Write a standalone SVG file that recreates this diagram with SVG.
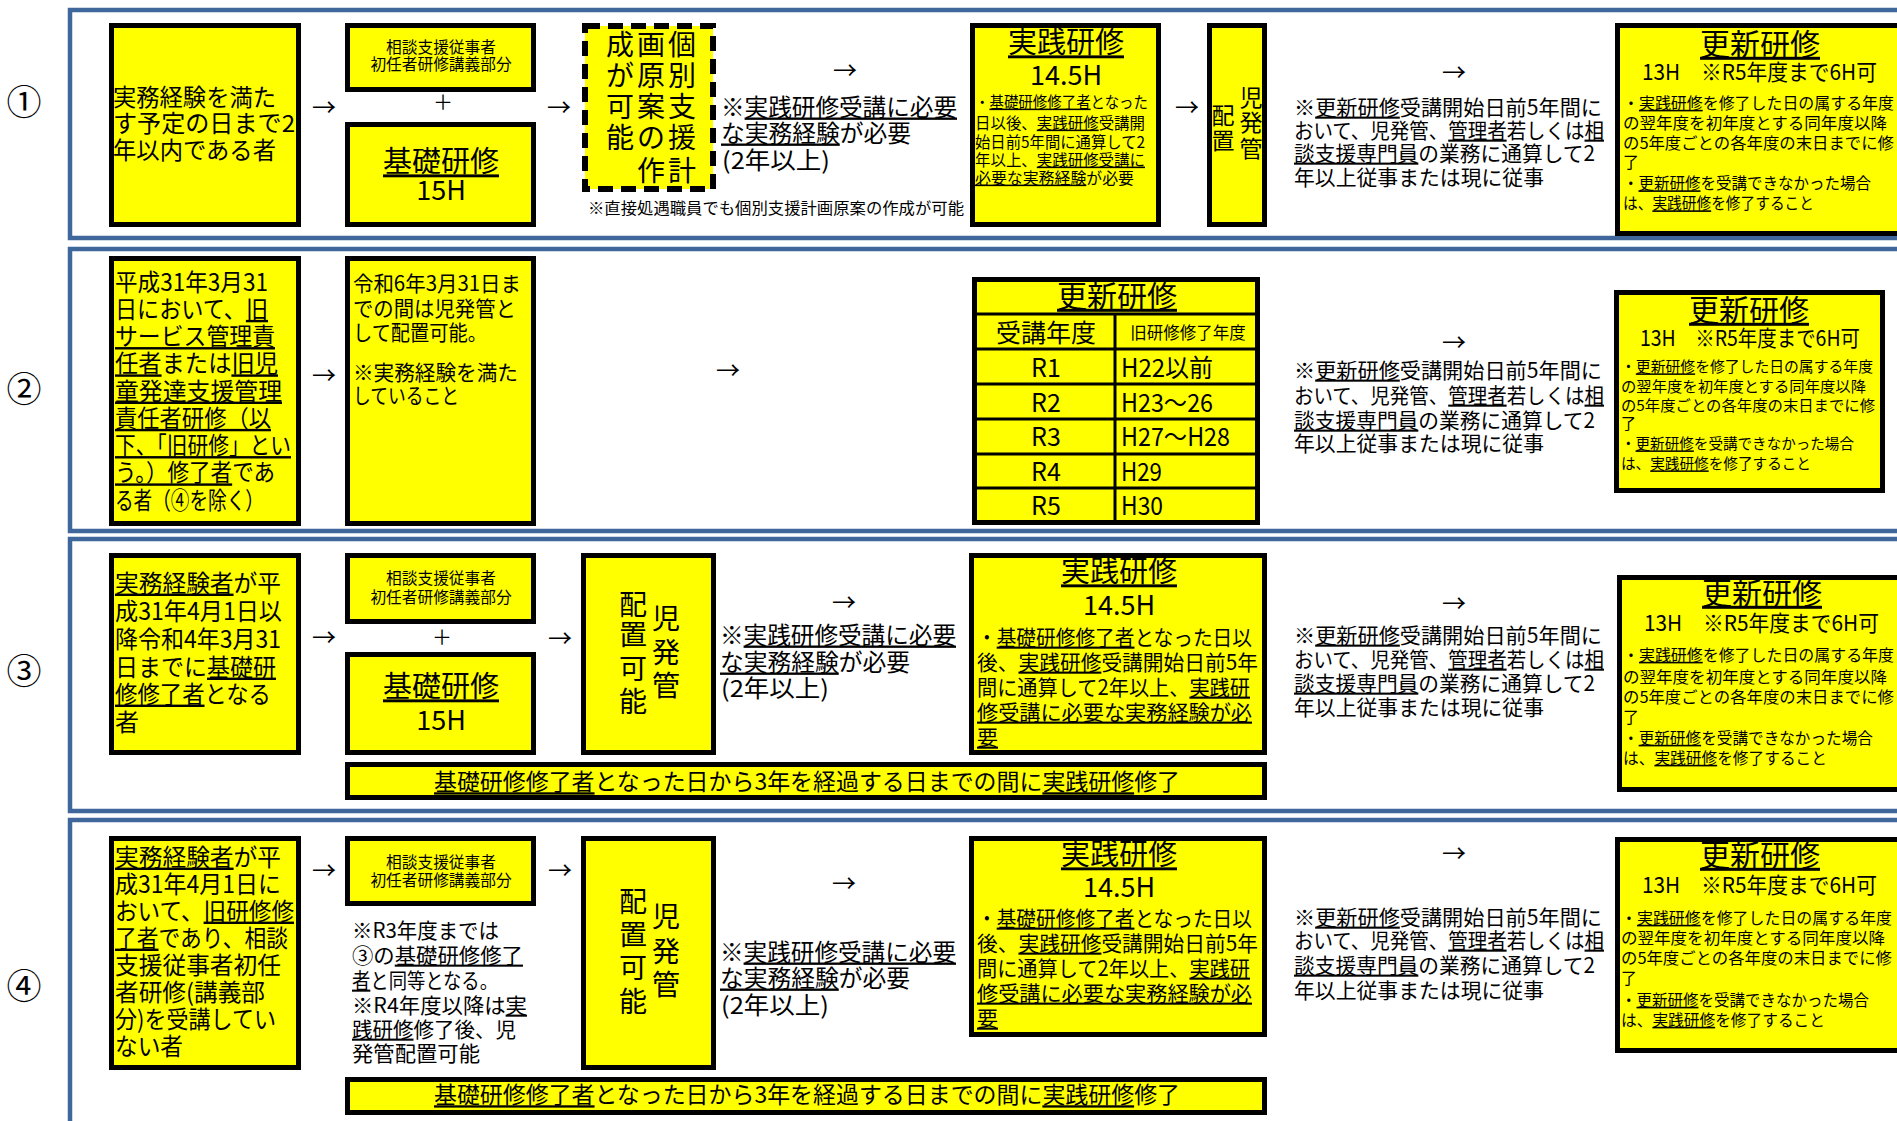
<svg xmlns="http://www.w3.org/2000/svg" width="1897" height="1121" viewBox="0 0 1897 1121">
<style>
text{font-family:"Noto Sans CJK JP","Liberation Sans",sans-serif;fill:#000}
.u{text-decoration:underline}
.box{fill:#ffff00;stroke:#000;stroke-width:5}
.dash{fill:#ffff00;stroke:#000;stroke-width:6;stroke-dasharray:15 8}
.frame{fill:none;stroke:#3f679b;stroke-width:4.5}
.grid{stroke:#000;stroke-width:3}
.c{text-anchor:middle}
.s24{font-size:24px}.s23{font-size:23.5px}.s21{font-size:21px}.s16{font-size:16px}.s155{font-size:15.5px}.s15{font-size:15px}
.t29{font-size:29px}.t27{font-size:27px}.t30{font-size:30px}.v28{font-size:28px}.v23{font-size:23px}
.lab{font-size:35px}
.arr{font-size:24px;text-anchor:middle}
</style>

<g id="frames">
<rect class="frame" x="70" y="10" width="1900" height="228"/>
<rect class="frame" x="70" y="249" width="1900" height="282"/>
<rect class="frame" x="70" y="539" width="1900" height="272"/>
<rect class="frame" x="70" y="820" width="1900" height="400"/>
</g>

<g id="labels">
<text class="lab c" x="24" y="115">①</text>
<text class="lab c" x="24" y="402">②</text>
<text class="lab c" x="24" y="684">③</text>
<text class="lab c" x="24" y="999">④</text>
</g>

<!-- Row 1 -->
<g id="r1-start">
<rect class="box" x="111.5" y="25.5" width="187" height="199"/>
<text class="s23" x="113" y="105.5" textLength="163" lengthAdjust="spacingAndGlyphs">実務経験を満た</text>
<text class="s23" x="113" y="131.5" textLength="182" lengthAdjust="spacingAndGlyphs">す予定の日まで2</text>
<text class="s23" x="113" y="158.5" textLength="163" lengthAdjust="spacingAndGlyphs">年以内である者</text>
</g>
<g id="r1-shonin">
<rect class="box" x="347.5" y="25.5" width="186" height="64"/>
<text class="c" style="font-size:15.7px" x="441" y="52.7">相談支援従事者</text>
<text class="c" style="font-size:15.7px" x="441" y="69.7">初任者研修講義部分</text>
</g>
<g id="r1-kiso">
<rect class="box" x="347.5" y="124.5" width="186" height="100"/>
<text class="t29 c" x="441" y="172.4"><tspan class="u">基礎研修</tspan></text>
<text class="t27 c" x="441" y="199.7">15H</text>
</g>
<g id="r1-keikaku">
<rect class="dash" x="585" y="26" width="128" height="163"/>
<text class="v28 c" x="682 682 682 682 682" y="55 85.5 117 148 181">個別支援計</text>
<text class="v28 c" x="651 651 651 651 651" y="55 85.5 117 148 181">画原案の作</text>
<text class="v28 c" x="620 620 620 620" y="55 85.5 117 148">成が可能</text>
<text class="s155" x="588" y="213.6" textLength="376" lengthAdjust="spacingAndGlyphs">※直接処遇職員でも個別支援計画原案の作成が可能</text>
</g>
<g id="r1-note">
<text class="s23" x="721" y="115.5" textLength="236" lengthAdjust="spacingAndGlyphs">※<tspan class="u">実践研修受講に必要</tspan></text>
<text class="s23" x="721" y="141.5" textLength="190" lengthAdjust="spacingAndGlyphs"><tspan class="u">な実務経験</tspan>が必要</text>
<text class="s23" x="722" y="168.5" textLength="108" lengthAdjust="spacingAndGlyphs">(2年以上)</text>
</g>
<g id="r1-jissen">
<rect class="box" x="972.5" y="25.5" width="186" height="199"/>
<text class="t29 c" x="1066" y="53.4"><tspan class="u">実践研修</tspan></text>
<text class="t27 c" x="1066" y="84.7">14.5H</text>
<text class="s155" x="975" y="107.6" textLength="173" lengthAdjust="spacingAndGlyphs">・<tspan class="u">基礎研修修了者</tspan>となった</text>
<text class="s155" x="975" y="128.6" textLength="170" lengthAdjust="spacingAndGlyphs">日以後、<tspan class="u">実践研修</tspan>受講開</text>
<text class="s155" x="975" y="147.6" textLength="170" lengthAdjust="spacingAndGlyphs">始日前5年間に通算して2</text>
<text class="s155" x="975" y="165.6" textLength="170" lengthAdjust="spacingAndGlyphs">年以上、<tspan class="u">実践研修受講に</tspan></text>
<text class="s155" x="975" y="183.6" textLength="159" lengthAdjust="spacingAndGlyphs"><tspan class="u">必要な実務経験</tspan>が必要</text>
</g>
<g id="r1-haichi">
<rect class="box" x="1209.5" y="25.5" width="55" height="199"/>
<text class="v23 c" x="1251 1251 1251" y="106.3 131.3 157.3">児発管</text>
<text class="v23 c" x="1223 1223" y="124.3 149.3">配置</text>
</g>
<g id="r1-koushin-note">
<text class="s21" x="1294" y="114.6" textLength="308" lengthAdjust="spacingAndGlyphs">※<tspan class="u">更新研修</tspan>受講開始日前5年間に</text>
<text class="s21" x="1294" y="137.6" textLength="310" lengthAdjust="spacingAndGlyphs">おいて、児発管、<tspan class="u">管理者</tspan>若しくは<tspan class="u">相</tspan></text>
<text class="s21" x="1294" y="160.6" textLength="301" lengthAdjust="spacingAndGlyphs"><tspan class="u">談支援専門員</tspan>の業務に通算して2</text>
<text class="s21" x="1294" y="184.6" textLength="250" lengthAdjust="spacingAndGlyphs">年以上従事または現に従事</text>
</g>
<g id="r1-koushin">
<rect class="box" x="1617.5" y="25.5" width="300" height="208"/>
<text class="t30 c" x="1760" y="54.8"><tspan class="u">更新研修</tspan></text>
<text style="font-size:22px" x="1642" y="80" textLength="235" lengthAdjust="spacingAndGlyphs">13H　※R5年度まで6H可</text>
<text class="s16" x="1623" y="108.8" textLength="271" lengthAdjust="spacingAndGlyphs">・<tspan class="u">実践研修</tspan>を修了した日の属する年度</text>
<text class="s16" x="1623" y="129.3" textLength="264" lengthAdjust="spacingAndGlyphs">の翌年度を初年度とする同年度以降</text>
<text class="s16" x="1623" y="149.3" textLength="271" lengthAdjust="spacingAndGlyphs">の5年度ごとの各年度の末日までに修</text>
<text class="s16" x="1623" y="168.3">了</text>
<text class="s16" x="1623" y="189.3" textLength="248" lengthAdjust="spacingAndGlyphs">・<tspan class="u">更新研修</tspan>を受講できなかった場合</text>
<text class="s16" x="1623" y="209.3" textLength="191" lengthAdjust="spacingAndGlyphs">は、<tspan class="u">実践研修</tspan>を修了すること</text>
</g>

<!-- Row 2 -->
<g id="r2-start">
<rect class="box" x="111.5" y="258.5" width="187" height="265"/>
<text class="s24" x="115" y="290.6" textLength="153" lengthAdjust="spacingAndGlyphs">平成31年3月31</text>
<text class="s24" x="115" y="317.9" textLength="153" lengthAdjust="spacingAndGlyphs">日において、<tspan class="u">旧</tspan></text>
<text class="s24" x="115" y="345.1" textLength="160" lengthAdjust="spacingAndGlyphs"><tspan class="u">サービス管理責</tspan></text>
<text class="s24" x="115" y="372.4" textLength="163" lengthAdjust="spacingAndGlyphs"><tspan class="u">任者</tspan>または<tspan class="u">旧児</tspan></text>
<text class="s24" x="115" y="399.6" textLength="167" lengthAdjust="spacingAndGlyphs"><tspan class="u">童発達支援管理</tspan></text>
<text class="s24" x="115" y="426.9" textLength="156" lengthAdjust="spacingAndGlyphs"><tspan class="u">責任者研修（以</tspan></text>
<text class="s24" x="115" y="454.1" textLength="176" lengthAdjust="spacingAndGlyphs"><tspan class="u">下、「旧研修」とい</tspan></text>
<text class="s24" x="115" y="481.4" textLength="160" lengthAdjust="spacingAndGlyphs"><tspan class="u">う。）修了者</tspan>であ</text>
<text class="s24" x="115" y="508.6" textLength="149" lengthAdjust="spacingAndGlyphs">る者（④を除く）</text>
</g>
<g id="r2-haichi">
<rect class="box" x="347.5" y="258.5" width="186" height="265"/>
<text class="s21" x="353" y="290.6" textLength="168" lengthAdjust="spacingAndGlyphs">令和6年3月31日ま</text>
<text class="s21" x="353" y="315.6" textLength="163" lengthAdjust="spacingAndGlyphs">での間は児発管と</text>
<text class="s21" x="353" y="339.6" textLength="134" lengthAdjust="spacingAndGlyphs">して配置可能。</text>
<text class="s21" x="353" y="379.6" textLength="165" lengthAdjust="spacingAndGlyphs">※実務経験を満た</text>
<text class="s21" x="353" y="402.6" textLength="106" lengthAdjust="spacingAndGlyphs">していること</text>
</g>
<g id="r2-table">
<rect class="box" x="974.5" y="279.5" width="283" height="243"/>
<line class="grid" x1="977" y1="314" x2="1255" y2="314"/>
<line class="grid" x1="977" y1="349" x2="1255" y2="349"/>
<line class="grid" x1="977" y1="384" x2="1255" y2="384"/>
<line class="grid" x1="977" y1="419" x2="1255" y2="419"/>
<line class="grid" x1="977" y1="454" x2="1255" y2="454"/>
<line class="grid" x1="977" y1="488" x2="1255" y2="488"/>
<line class="grid" x1="1115" y1="314" x2="1115" y2="520"/>
<text class="t30 c" x="1117" y="306.8"><tspan class="u">更新研修</tspan></text>
<text class="c" style="font-size:25px" x="1046" y="342">受講年度</text>
<text class="c" style="font-size:16.5px" x="1188" y="338.9">旧研修修了年度</text>
<text class="c" style="font-size:25px" x="1046" y="376.5">R1</text>
<text class="c" style="font-size:25px" x="1046" y="411.5">R2</text>
<text class="c" style="font-size:25px" x="1046" y="446">R3</text>
<text class="c" style="font-size:25px" x="1046" y="481">R4</text>
<text class="c" style="font-size:25px" x="1046" y="514.5">R5</text>
<text style="font-size:25px" x="1121" y="376.5" textLength="92" lengthAdjust="spacingAndGlyphs">H22以前</text>
<text style="font-size:25px" x="1121" y="411.5" textLength="92" lengthAdjust="spacingAndGlyphs">H23～26</text>
<text style="font-size:25px" x="1121" y="446" textLength="109" lengthAdjust="spacingAndGlyphs">H27～H28</text>
<text style="font-size:25px" x="1121" y="481" textLength="41" lengthAdjust="spacingAndGlyphs">H29</text>
<text style="font-size:25px" x="1121" y="514.5" textLength="42" lengthAdjust="spacingAndGlyphs">H30</text>
</g>
<g id="r2-koushin-note">
<text class="s21" x="1294" y="377.6" textLength="308" lengthAdjust="spacingAndGlyphs">※<tspan class="u">更新研修</tspan>受講開始日前5年間に</text>
<text class="s21" x="1294" y="402.6" textLength="310" lengthAdjust="spacingAndGlyphs">おいて、児発管、<tspan class="u">管理者</tspan>若しくは<tspan class="u">相</tspan></text>
<text class="s21" x="1294" y="427.6" textLength="301" lengthAdjust="spacingAndGlyphs"><tspan class="u">談支援専門員</tspan>の業務に通算して2</text>
<text class="s21" x="1294" y="450.6" textLength="250" lengthAdjust="spacingAndGlyphs">年以上従事または現に従事</text>
</g>
<g id="r2-koushin">
<rect class="box" x="1616.5" y="292.5" width="266" height="198"/>
<text class="t30 c" x="1749" y="320.8"><tspan class="u">更新研修</tspan></text>
<text style="font-size:22px" x="1640" y="345.9" textLength="220" lengthAdjust="spacingAndGlyphs">13H　※R5年度まで6H可</text>
<text class="s15" x="1621" y="372.4" textLength="252" lengthAdjust="spacingAndGlyphs">・<tspan class="u">更新研修</tspan>を修了した日の属する年度</text>
<text class="s15" x="1621" y="392.4" textLength="245" lengthAdjust="spacingAndGlyphs">の翌年度を初年度とする同年度以降</text>
<text class="s15" x="1621" y="411.4" textLength="254" lengthAdjust="spacingAndGlyphs">の5年度ごとの各年度の末日までに修</text>
<text class="s15" x="1621" y="429.4">了</text>
<text class="s15" x="1621" y="449.4" textLength="233" lengthAdjust="spacingAndGlyphs">・<tspan class="u">更新研修</tspan>を受講できなかった場合</text>
<text class="s15" x="1621" y="469.4" textLength="190" lengthAdjust="spacingAndGlyphs">は、<tspan class="u">実践研修</tspan>を修了すること</text>
</g>

<!-- Row 3 -->
<g id="r3-start">
<rect class="box" x="111.5" y="555.5" width="187" height="197"/>
<text class="s24" x="115" y="591.6" textLength="166" lengthAdjust="spacingAndGlyphs"><tspan class="u">実務経験者</tspan>が平</text>
<text class="s24" x="115" y="619.6" textLength="167" lengthAdjust="spacingAndGlyphs">成31年4月1日以</text>
<text class="s24" x="115" y="647.6" textLength="166" lengthAdjust="spacingAndGlyphs">降令和4年3月31</text>
<text class="s24" x="115" y="675.6" textLength="161" lengthAdjust="spacingAndGlyphs">日までに<tspan class="u">基礎研</tspan></text>
<text class="s24" x="115" y="702.6" textLength="156" lengthAdjust="spacingAndGlyphs"><tspan class="u">修修了者</tspan>となる</text>
<text class="s24" x="115" y="730.6">者</text>
</g>
<g id="r3-shonin">
<rect class="box" x="347.5" y="555.5" width="186" height="66"/>
<text class="c" style="font-size:15.7px" x="441" y="583.7">相談支援従事者</text>
<text class="c" style="font-size:15.7px" x="441" y="602.7">初任者研修講義部分</text>
</g>
<g id="r3-kiso">
<rect class="box" x="347.5" y="654.5" width="186" height="98"/>
<text class="t29 c" x="441" y="697.4"><tspan class="u">基礎研修</tspan></text>
<text class="t27 c" x="441" y="729.7">15H</text>
</g>
<g id="r3-haichi">
<rect class="box" x="583.5" y="555.5" width="130" height="197"/>
<text class="v28 c" x="666 666 666" y="629 663 696">児発管</text>
<text class="v28 c" x="633 633 633 633" y="615 645 679 712">配置可能</text>
</g>
<g id="r3-note">
<text class="s23" x="720" y="643.5" textLength="236" lengthAdjust="spacingAndGlyphs">※<tspan class="u">実践研修受講に必要</tspan></text>
<text class="s23" x="720" y="670.5" textLength="190" lengthAdjust="spacingAndGlyphs"><tspan class="u">な実務経験</tspan>が必要</text>
<text class="s23" x="721" y="696.5" textLength="108" lengthAdjust="spacingAndGlyphs">(2年以上)</text>
</g>
<g id="r3-jissen">
<rect class="box" x="971.5" y="555.5" width="293" height="197"/>
<text class="t29 c" x="1119" y="582.4"><tspan class="u">実践研修</tspan></text>
<text class="t27 c" x="1119" y="614.7">14.5H</text>
<text class="s21" x="977" y="644.6" textLength="275" lengthAdjust="spacingAndGlyphs">・<tspan class="u">基礎研修修了者</tspan>となった日以</text>
<text class="s21" x="977" y="669.6" textLength="281" lengthAdjust="spacingAndGlyphs">後、<tspan class="u">実践研修</tspan>受講開始日前5年</text>
<text class="s21" x="977" y="694.6" textLength="273" lengthAdjust="spacingAndGlyphs">間に通算して2年以上、<tspan class="u">実践研</tspan></text>
<text class="s21" x="977" y="719.6" textLength="275" lengthAdjust="spacingAndGlyphs"><tspan class="u">修受講に必要な実務経験が必</tspan></text>
<text class="s21" x="977" y="744.6"><tspan class="u">要</tspan></text>
</g>
<g id="r3-bar">
<rect class="box" x="347.5" y="764.5" width="917" height="33"/>
<text style="font-size:23px" x="434" y="790.3" textLength="746" lengthAdjust="spacingAndGlyphs"><tspan class="u">基礎研修修了者</tspan>となった日から3年を経過する日までの間に<tspan class="u">実践研修</tspan>修了</text>
</g>
<g id="r3-koushin-note">
<text class="s21" x="1294" y="642.6" textLength="308" lengthAdjust="spacingAndGlyphs">※<tspan class="u">更新研修</tspan>受講開始日前5年間に</text>
<text class="s21" x="1294" y="666.6" textLength="310" lengthAdjust="spacingAndGlyphs">おいて、児発管、<tspan class="u">管理者</tspan>若しくは<tspan class="u">相</tspan></text>
<text class="s21" x="1294" y="690.6" textLength="301" lengthAdjust="spacingAndGlyphs"><tspan class="u">談支援専門員</tspan>の業務に通算して2</text>
<text class="s21" x="1294" y="714.6" textLength="250" lengthAdjust="spacingAndGlyphs">年以上従事または現に従事</text>
</g>
<g id="r3-koushin">
<rect class="box" x="1619.5" y="577.5" width="300" height="212"/>
<text class="t30 c" x="1762" y="603.8"><tspan class="u">更新研修</tspan></text>
<text style="font-size:22px" x="1644" y="630.9" textLength="235" lengthAdjust="spacingAndGlyphs">13H　※R5年度まで6H可</text>
<text class="s16" x="1623" y="660.8" textLength="271" lengthAdjust="spacingAndGlyphs">・<tspan class="u">実践研修</tspan>を修了した日の属する年度</text>
<text class="s16" x="1623" y="682.8" textLength="264" lengthAdjust="spacingAndGlyphs">の翌年度を初年度とする同年度以降</text>
<text class="s16" x="1623" y="702.8" textLength="271" lengthAdjust="spacingAndGlyphs">の5年度ごとの各年度の末日までに修</text>
<text class="s16" x="1623" y="722.8">了</text>
<text class="s16" x="1623" y="743.8" textLength="250" lengthAdjust="spacingAndGlyphs">・<tspan class="u">更新研修</tspan>を受講できなかった場合</text>
<text class="s16" x="1623" y="763.8" textLength="204" lengthAdjust="spacingAndGlyphs">は、<tspan class="u">実践研修</tspan>を修了すること</text>
</g>

<!-- Row 4 -->
<g id="r4-start">
<rect class="box" x="111.5" y="838.5" width="187" height="229"/>
<text class="s24" x="115" y="865.6" textLength="166" lengthAdjust="spacingAndGlyphs"><tspan class="u">実務経験者</tspan>が平</text>
<text class="s24" x="115" y="892.6" textLength="166" lengthAdjust="spacingAndGlyphs">成31年4月1日に</text>
<text class="s24" x="115" y="919.6" textLength="179" lengthAdjust="spacingAndGlyphs">おいて、<tspan class="u">旧研修修</tspan></text>
<text class="s24" x="115" y="946.6" textLength="173" lengthAdjust="spacingAndGlyphs"><tspan class="u">了者</tspan>であり、相談</text>
<text class="s24" x="115" y="973.6" textLength="166" lengthAdjust="spacingAndGlyphs">支援従事者初任</text>
<text class="s24" x="115" y="1000.6" textLength="150" lengthAdjust="spacingAndGlyphs">者研修(講義部</text>
<text class="s24" x="115" y="1027.6" textLength="161" lengthAdjust="spacingAndGlyphs">分)を受講してい</text>
<text class="s24" x="115" y="1054.6" textLength="68" lengthAdjust="spacingAndGlyphs">ない者</text>
</g>
<g id="r4-shonin">
<rect class="box" x="347.5" y="838.5" width="186" height="65"/>
<text class="c" style="font-size:15.7px" x="441" y="867.7">相談支援従事者</text>
<text class="c" style="font-size:15.7px" x="441" y="885.7">初任者研修講義部分</text>
</g>
<g id="r4-shonin-note">
<text class="s21" x="352" y="937.6" textLength="147" lengthAdjust="spacingAndGlyphs">※R3年度までは</text>
<text class="s21" x="352" y="962.6" textLength="171" lengthAdjust="spacingAndGlyphs">③の<tspan class="u">基礎研修修了</tspan></text>
<text class="s21" x="352" y="987.6" textLength="146" lengthAdjust="spacingAndGlyphs"><tspan class="u">者</tspan>と同等となる。</text>
<text class="s21" x="352" y="1012.6" textLength="175" lengthAdjust="spacingAndGlyphs">※R4年度以降は<tspan class="u">実</tspan></text>
<text class="s21" x="352" y="1036.6" textLength="164" lengthAdjust="spacingAndGlyphs"><tspan class="u">践研修</tspan>修了後、児</text>
<text class="s21" x="352" y="1060.6" textLength="128" lengthAdjust="spacingAndGlyphs">発管配置可能</text>
</g>
<g id="r4-haichi">
<rect class="box" x="583.5" y="838.5" width="130" height="229"/>
<text class="v28 c" x="666 666 666" y="927 962 995">児発管</text>
<text class="v28 c" x="633 633 633 633" y="912 945 978 1012">配置可能</text>
</g>
<g id="r4-note">
<text class="s23" x="720" y="960.5" textLength="236" lengthAdjust="spacingAndGlyphs">※<tspan class="u">実践研修受講に必要</tspan></text>
<text class="s23" x="720" y="986.5" textLength="190" lengthAdjust="spacingAndGlyphs"><tspan class="u">な実務経験</tspan>が必要</text>
<text class="s23" x="721" y="1013.5" textLength="108" lengthAdjust="spacingAndGlyphs">(2年以上)</text>
</g>
<g id="r4-jissen">
<rect class="box" x="971.5" y="838.5" width="293" height="196"/>
<text class="t29 c" x="1119" y="865.4"><tspan class="u">実践研修</tspan></text>
<text class="t27 c" x="1119" y="896.7">14.5H</text>
<text class="s21" x="977" y="925.6" textLength="275" lengthAdjust="spacingAndGlyphs">・<tspan class="u">基礎研修修了者</tspan>となった日以</text>
<text class="s21" x="977" y="950.6" textLength="281" lengthAdjust="spacingAndGlyphs">後、<tspan class="u">実践研修</tspan>受講開始日前5年</text>
<text class="s21" x="977" y="975.6" textLength="273" lengthAdjust="spacingAndGlyphs">間に通算して2年以上、<tspan class="u">実践研</tspan></text>
<text class="s21" x="977" y="1000.6" textLength="275" lengthAdjust="spacingAndGlyphs"><tspan class="u">修受講に必要な実務経験が必</tspan></text>
<text class="s21" x="977" y="1025.6"><tspan class="u">要</tspan></text>
</g>
<g id="r4-bar">
<rect class="box" x="347.5" y="1079.5" width="917" height="33"/>
<text style="font-size:23px" x="434" y="1103.3" textLength="746" lengthAdjust="spacingAndGlyphs"><tspan class="u">基礎研修修了者</tspan>となった日から3年を経過する日までの間に<tspan class="u">実践研修</tspan>修了</text>
</g>
<g id="r4-koushin-note">
<text class="s21" x="1294" y="924.6" textLength="308" lengthAdjust="spacingAndGlyphs">※<tspan class="u">更新研修</tspan>受講開始日前5年間に</text>
<text class="s21" x="1294" y="947.6" textLength="310" lengthAdjust="spacingAndGlyphs">おいて、児発管、<tspan class="u">管理者</tspan>若しくは<tspan class="u">相</tspan></text>
<text class="s21" x="1294" y="972.6" textLength="301" lengthAdjust="spacingAndGlyphs"><tspan class="u">談支援専門員</tspan>の業務に通算して2</text>
<text class="s21" x="1294" y="997.6" textLength="250" lengthAdjust="spacingAndGlyphs">年以上従事または現に従事</text>
</g>
<g id="r4-koushin">
<rect class="box" x="1617.5" y="839.5" width="300" height="211"/>
<text class="t30 c" x="1760" y="865.8"><tspan class="u">更新研修</tspan></text>
<text style="font-size:22px" x="1642" y="892.9" textLength="235" lengthAdjust="spacingAndGlyphs">13H　※R5年度まで6H可</text>
<text class="s16" x="1621" y="923.8" textLength="271" lengthAdjust="spacingAndGlyphs">・<tspan class="u">実践研修</tspan>を修了した日の属する年度</text>
<text class="s16" x="1621" y="943.8" textLength="264" lengthAdjust="spacingAndGlyphs">の翌年度を初年度とする同年度以降</text>
<text class="s16" x="1621" y="963.8" textLength="271" lengthAdjust="spacingAndGlyphs">の5年度ごとの各年度の末日までに修</text>
<text class="s16" x="1621" y="983.8">了</text>
<text class="s16" x="1621" y="1005.8" textLength="248" lengthAdjust="spacingAndGlyphs">・<tspan class="u">更新研修</tspan>を受講できなかった場合</text>
<text class="s16" x="1621" y="1025.8" textLength="204" lengthAdjust="spacingAndGlyphs">は、<tspan class="u">実践研修</tspan>を修了すること</text>
</g>

<g id="connectors">
<text class="arr" x="324" y="115.6">→</text>
<text class="arr" x="559" y="115.6">→</text>
<text class="arr" x="845" y="78.6">→</text>
<text class="arr" x="1187" y="115.6">→</text>
<text class="arr" x="1454" y="80.6">→</text>
<text class="arr" x="324" y="383.6">→</text>
<text class="arr" x="728" y="378.6">→</text>
<text class="arr" x="1454" y="350.6">→</text>
<text class="arr" x="324" y="645.6">→</text>
<text class="arr" x="560" y="646.6">→</text>
<text class="arr" x="844" y="610.6">→</text>
<text class="arr" x="1454" y="611.6">→</text>
<text class="arr" x="324" y="878.6">→</text>
<text class="arr" x="560" y="878.6">→</text>
<text class="arr" x="844" y="891.6">→</text>
<text class="arr" x="1454" y="861.6">→</text>
<text class="c" style="font-size:20px" x="443" y="110">＋</text>
<text class="c" style="font-size:20px" x="442" y="645">＋</text>
</g>
</svg>
